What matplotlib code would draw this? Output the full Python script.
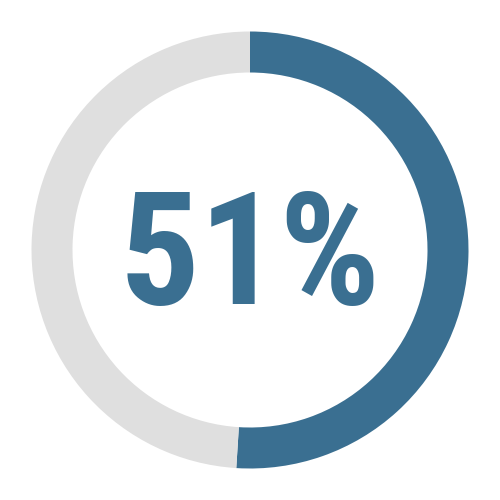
import matplotlib.pyplot as plt

# donut values
labels = ["Done", "Remaining"]
values = [51, 49]
colors = ["#3a6f91", "#dfdfdf"]
center_text = "51%"

fig = plt.figure(figsize=(5, 5), dpi=100)
ax = fig.add_axes([0, 0, 1, 1])

outer = 218.5
ring = 41
lim = 250 / outer

ax.pie(values, colors=colors, startangle=90, counterclock=False,
       radius=1, wedgeprops=dict(width=ring / outer, linewidth=0))
ax.set_xlim(-lim, lim)
ax.set_ylim(-lim, lim)
ax.set_aspect("equal")
ax.axis("off")

ax.text(0, 0.025, center_text, ha="center", va="center_baseline",
        fontsize=114, fontweight="heavy", fontstretch="condensed",
        family=["Roboto Condensed", "Roboto"],
        color=colors[0])

fig.savefig("out.png", dpi=100, facecolor="white")
